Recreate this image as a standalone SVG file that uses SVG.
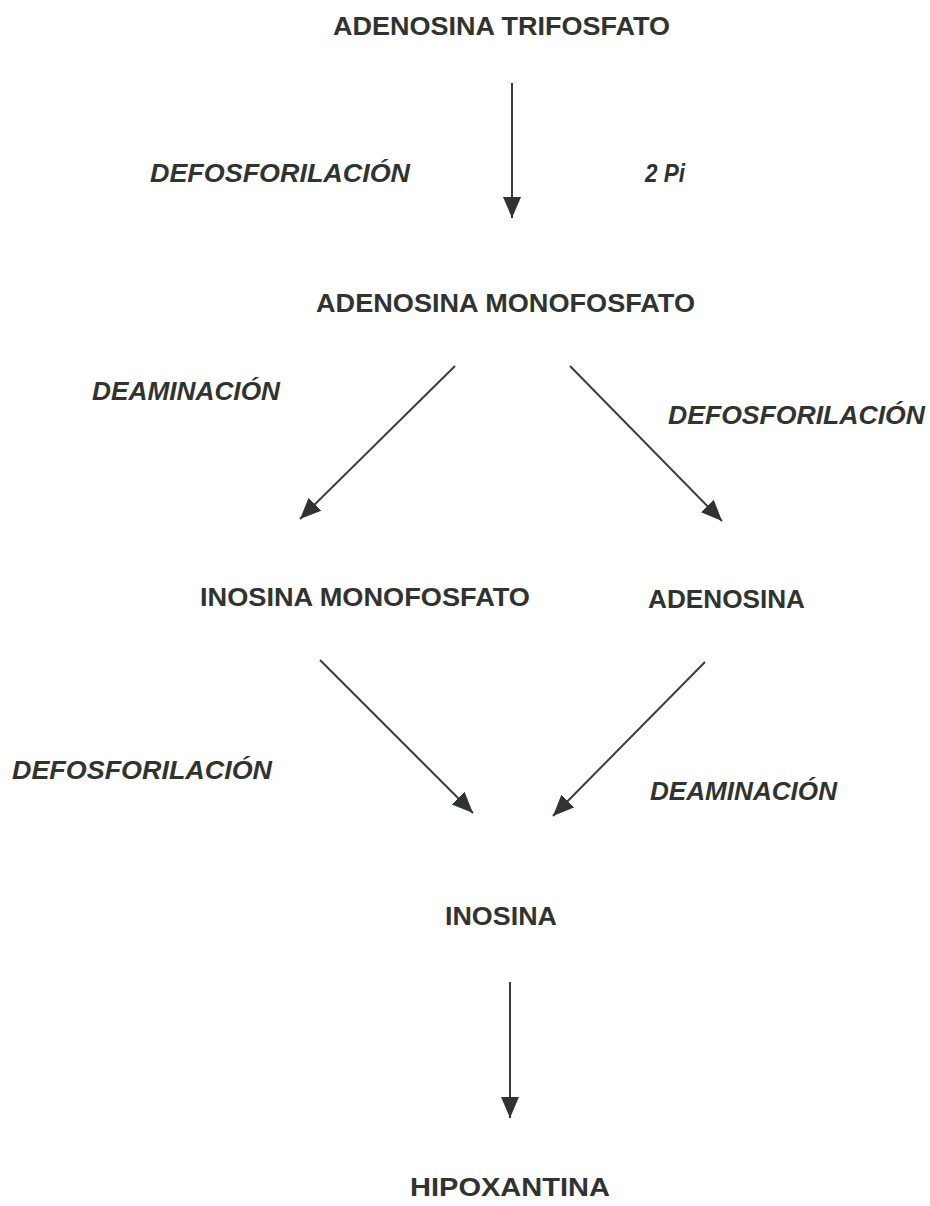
<svg xmlns="http://www.w3.org/2000/svg" width="930" height="1206" viewBox="0 0 930 1206">
<defs>
<style>
.n{font-family:"Liberation Sans",Arial,sans-serif;font-weight:bold;font-size:26.5px;fill:#303430;}
.l{font-family:"Liberation Sans",Arial,sans-serif;font-weight:bold;font-style:italic;font-size:25.5px;fill:#303430;}
.c{stroke:#3a3d3a;stroke-width:2;fill:none;marker-end:url(#ah);}
</style>
<marker id="ah" markerUnits="userSpaceOnUse" markerWidth="22" markerHeight="20" refX="21" refY="9" orient="auto" viewBox="0 0 22 18">
<path d="M0,0 L21,9 L0,18 z" fill="#303430"/>
</marker>
</defs>
<rect width="930" height="1206" fill="#ffffff"/>
<g id="connectors">
<line class="c" x1="512" y1="83" x2="512" y2="218"/>
<line class="c" x1="455" y1="366" x2="300" y2="519"/>
<line class="c" x1="570" y1="366" x2="722" y2="521"/>
<line class="c" x1="320" y1="660" x2="473" y2="813"/>
<line class="c" x1="705" y1="662" x2="553" y2="816"/>
<line class="c" x1="510" y1="982" x2="510" y2="1118"/>
</g>
<g id="atp"><text class="n" x="333" y="35" textLength="337" lengthAdjust="spacingAndGlyphs">ADENOSINA TRIFOSFATO</text></g>
<g id="amp"><text class="n" x="316" y="312" textLength="379" lengthAdjust="spacingAndGlyphs">ADENOSINA MONOFOSFATO</text></g>
<g id="imp"><text class="n" x="200" y="606" textLength="330" lengthAdjust="spacingAndGlyphs">INOSINA MONOFOSFATO</text></g>
<g id="adenosina"><text class="n" x="648" y="608" textLength="157" lengthAdjust="spacingAndGlyphs">ADENOSINA</text></g>
<g id="inosina"><text class="n" x="445" y="925" textLength="112" lengthAdjust="spacingAndGlyphs">INOSINA</text></g>
<g id="hipoxantina"><text class="n" x="410" y="1196" textLength="200" lengthAdjust="spacingAndGlyphs">HIPOXANTINA</text></g>
<g id="labels">
<text class="l" x="150" y="182" textLength="260" lengthAdjust="spacingAndGlyphs">DEFOSFORILACIÓN</text>
<text class="l" x="645" y="182" textLength="40" lengthAdjust="spacingAndGlyphs">2 Pi</text>
<text class="l" x="92" y="400" textLength="188" lengthAdjust="spacingAndGlyphs">DEAMINACIÓN</text>
<text class="l" x="668" y="424" textLength="257" lengthAdjust="spacingAndGlyphs">DEFOSFORILACIÓN</text>
<text class="l" x="12" y="779" textLength="260" lengthAdjust="spacingAndGlyphs">DEFOSFORILACIÓN</text>
<text class="l" x="650" y="800" textLength="187" lengthAdjust="spacingAndGlyphs">DEAMINACIÓN</text>
</g>
</svg>
